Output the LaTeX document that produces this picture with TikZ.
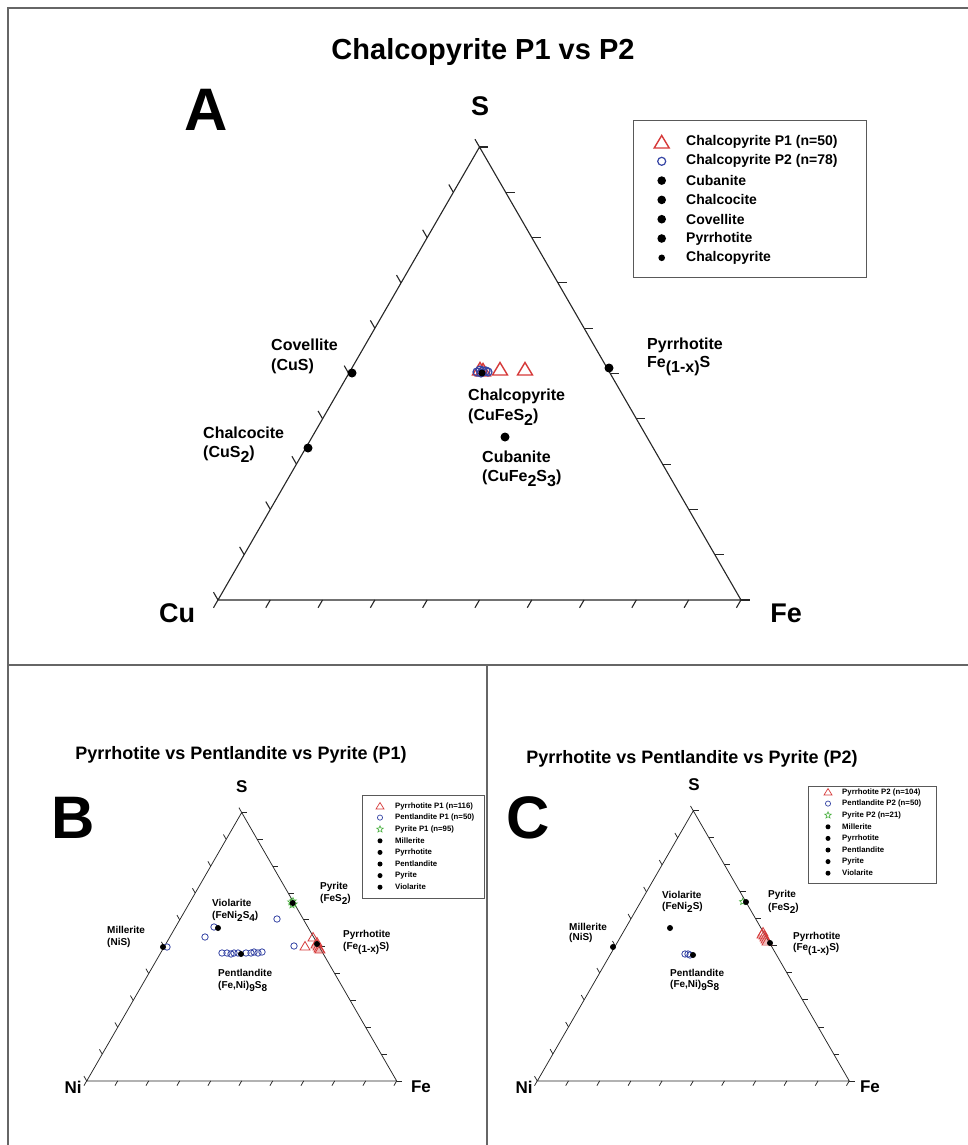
\documentclass[tikz,border=0pt]{standalone}
\usepackage{fontspec}
\setmainfont{Liberation Sans}
\usepackage{graphicx}
\usetikzlibrary{shapes.geometric}
\definecolor{tred}{RGB}{214,58,58}
\definecolor{tblue}{RGB}{55,70,165}
\definecolor{tgreen}{RGB}{70,175,60}
\newcommand\sbx[1]{\raisebox{-0.3em}{#1}}
\newcommand\tern[5]{%
  \draw[#5] (#1) -- (#2) -- (#3) -- cycle;
  \foreach \k in {0,...,10}{%
    \pgfmathtruncatemacro\kk{10-\k}%
    \draw[#5] (barycentric cs:#1=\kk,#2=\k) -- ++(-0.5*#4,0.866*#4);
    \draw[#5] (barycentric cs:#2=\kk,#3=\k) -- ++(#4,0);
    \draw[#5] (barycentric cs:#3=\kk,#1=\k) -- ++(-0.5*#4,-0.866*#4);
  }}
\begin{document}
\begin{tikzpicture}[x=1pt,y=-1pt,
  frame/.style={draw=black!60, line width=1.4pt},
  axA/.style={black!85, line width=1.1pt},
  axB/.style={black!85, line width=0.75pt},
  ttlA/.style={font=\fontsize{29}{32}\selectfont\bfseries, inner sep=0},
  ttlB/.style={font=\fontsize{18}{20}\selectfont\bfseries, inner sep=0},
  bigl/.style={font=\fontsize{60}{64}\selectfont\bfseries, inner sep=0},
  vtxA/.style={font=\fontsize{27}{30}\selectfont\bfseries, inner sep=0},
  vtxB/.style={font=\fontsize{17}{19}\selectfont\bfseries, inner sep=0},
  lblA/.style={font=\fontsize{16}{18}\selectfont\bfseries, inner sep=0, anchor=west},
  legA/.style={font=\fontsize{14}{16}\selectfont\bfseries, inner sep=0, anchor=west},
  lblB/.style={font=\fontsize{10}{12}\selectfont\bfseries, inner sep=0, anchor=west},
  legB/.style={font=\fontsize{7.8}{9}\selectfont\bfseries, inner sep=0, anchor=west},
  legbox/.style={draw=black!65, line width=1pt},
  bigtri/.pic={\draw[tred, line width=1.4pt] (0,-6.5) -- (7.5,6) -- (-7.5,6) -- cycle;},
  smtri/.pic={\draw[tred, line width=0.8pt] (0,-4.5) -- (5,4) -- (-5,4) -- cycle;},
  legtri/.pic={\draw[tred, line width=0.7pt] (0,-3.5) -- (4,3) -- (-4,3) -- cycle;},
  gstar/.style={star, star points=5, star point ratio=2.3, draw=tgreen, line width=0.6pt, inner sep=0, minimum size=7pt},
]
\useasboundingbox (0,0) rectangle (968,1145);
\fill[white] (0,0) rectangle (968,1145);

% frame
\draw[frame] (968,8) -- (8,8) -- (8,1145);
\draw[frame] (8,665) -- (968,665);
\draw[frame] (487,665) -- (487,1145);

% ================= Panel A =================
\coordinate (aL) at (218,600);
\coordinate (aR) at (741,600);
\coordinate (aT) at (479.5,147);
\tern{aL}{aR}{aT}{9}{axA}

\node[ttlA] (tA) at (483,52) {Chalcopyrite P1 vs P2};
\node[bigl] (letA) at (206,110) {A};
\node[vtxA] (sA) at (480,106) {S};
\node[vtxA] (cuA) at (177,613) {Cu};
\node[vtxA] (feA) at (786,613) {Fe};

% legend A
\draw[legbox] (633,121) rectangle (866,277);
\pic at (661.7,142) {bigtri};
\draw[tblue, line width=1.2pt] (661.7,161.3) circle[radius=4pt];
\fill (661.7,180.6) circle[radius=4.3pt];
\fill (661.7,199.9) circle[radius=4.3pt];
\fill (661.7,219.2) circle[radius=4.3pt];
\fill (661.7,238.5) circle[radius=4.3pt];
\fill (661.7,257.8) circle[radius=3.3pt];
\node[legA] (lA1) at (686,142) {Chalcopyrite P1 (n=50)};
\node[legA] (lA2) at (686,161.3) {Chalcopyrite P2 (n=78)};
\node[legA] (lA3) at (686,180.6) {Cubanite};
\node[legA] (lA4) at (686,199.9) {Chalcocite};
\node[legA] (lA5) at (686,219.2) {Covellite};
\node[legA] (lA6) at (686,238.5) {Pyrrhotite};
\node[legA] (lA7) at (686,257.8) {Chalcopyrite};

% labels A
\node[lblA] (covA) at (271,345) {Covellite};
\node[lblA] (covfA) at (271,366) {(CuS)};
\node[lblA] (chcA) at (203,433) {Chalcocite};
\node[lblA] (chcfA) at (203,454) {(CuS\sbx{2})};
\node[lblA] (cpyA) at (468,396) {Chalcopyrite};
\node[lblA] (cpyfA) at (468,417) {(CuFeS\sbx{2})};
\node[lblA] (cubA) at (482,457) {Cubanite};
\node[lblA] (cubfA) at (482,478) {(CuFe\sbx{2}S\sbx{3})};
\node[lblA] (poA) at (647,345) {Pyrrhotite};
\node[lblA] (pofA) at (647,366) {Fe\sbx{(1-x)}S};

% data A
\fill (352,373) circle[radius=4.5pt];
\fill (308,448) circle[radius=4.5pt];
\fill (609,368) circle[radius=4.5pt];
\fill (505,437) circle[radius=4.5pt];
\pic at (480,369) {bigtri};
\pic at (483,370) {bigtri};
\pic at (500,369) {bigtri};
\pic at (525,369) {bigtri};
\foreach \x/\y in {477/372,480/370,483/371,486/371,488/372,481/373}
  \draw[tblue, line width=1.2pt] (\x,\y) circle[radius=4pt];
\fill (482,373) circle[radius=3.5pt];

% ================= Panel B =================
\coordinate (bL) at (86.7,1081);
\coordinate (bR) at (396.7,1081);
\coordinate (bT) at (241.7,812.5);
\tern{bL}{bR}{bT}{5.5}{axB}

\node[ttlB] (tB) at (241,755) {Pyrrhotite vs Pentlandite vs Pyrite (P1)};
\node[bigl] (letB) at (73,818) {B};
\node[vtxB] (sB) at (241.7,787) {S};
\node[vtxB] (niB) at (73,1087) {Ni};
\node[vtxB] (feB) at (421,1087) {Fe};

% legend B
\draw[legbox, line width=0.8pt] (362.7,795) rectangle (484,898);
\pic at (380,806) {legtri};
\draw[tblue, line width=0.7pt] (380,817.6) circle[radius=2.6pt];
\node[gstar] (gsB) at (380,829.2) {};
\foreach \y in {840.8,852.4,864,875.6,887.2} \fill (380,\y) circle[radius=2.5pt];
\node[legB] (lB1) at (395,806) {Pyrrhotite P1 (n=116)};
\node[legB] (lB2) at (395,817.6) {Pentlandite P1 (n=50)};
\node[legB] (lB3) at (395,829.2) {Pyrite P1 (n=95)};
\node[legB] (lB4) at (395,840.8) {Millerite};
\node[legB] (lB5) at (395,852.4) {Pyrrhotite};
\node[legB] (lB6) at (395,864) {Pentlandite};
\node[legB] (lB7) at (395,875.6) {Pyrite};
\node[legB] (lB8) at (395,887.2) {Violarite};

% labels B
\node[lblB] (pyB) at (320,887) {Pyrite};
\node[lblB] (pyfB) at (320,899) {(FeS\sbx{2})};
\node[lblB] (viB) at (212,903) {Violarite};
\node[lblB] (vifB) at (212,916) {(FeNi\sbx{2}S\sbx{4})};
\node[lblB] (miB) at (107,930) {Millerite};
\node[lblB] (mifB) at (107,943) {(NiS)};
\node[lblB] (pnB) at (218,973) {Pentlandite};
\node[lblB] (pnfB) at (218,986) {(Fe,Ni)\sbx{9}S\sbx{8}};
\node[lblB] (poB) at (343,935) {Pyrrhotite};
\node[lblB] (pofB) at (343,948) {(Fe\sbx{(1-x)}S)};

% data B
\foreach \x/\y in {291/902,294/904,292/905,293/901}
  \node[gstar] at (\x,\y) {};
\fill (292.7,903) circle[radius=3pt];
\foreach \x/\y in {167/947,214/927,277/919,205/937,294/946,222/953,227/953,231/954,234/953,238/953,246/953,251/953,254/952,258/953,262/952}
  \draw[tblue, line width=0.8pt] (\x,\y) circle[radius=3.2pt];
\fill (163,947) circle[radius=3pt];
\fill (218,928) circle[radius=3pt];
\fill (241,954) circle[radius=3pt];
\pic at (313,937) {smtri};
\pic at (305,946) {smtri};
\foreach \x/\y in {316/944,318/946,319/948,317/942,320/949}
  \pic at (\x,\y) {smtri};
\fill (317,944) circle[radius=3pt];

% ================= Panel C =================
\coordinate (cL) at (537.3,1081);
\coordinate (cR) at (849.3,1081);
\coordinate (cT) at (693.3,810.8);
\tern{cL}{cR}{cT}{5.5}{axB}

\node[ttlB] (tC) at (692,759) {Pyrrhotite vs Pentlandite vs Pyrite (P2)};
\node[bigl] (letC) at (528,818) {C};
\node[vtxB] (sC) at (694,785) {S};
\node[vtxB] (niC) at (524,1087) {Ni};
\node[vtxB] (feC) at (870,1087) {Fe};

% legend C
\draw[legbox, line width=0.8pt] (808,786) rectangle (936,883);
\pic at (828,792) {legtri};
\draw[tblue, line width=0.7pt] (828,803.6) circle[radius=2.6pt];
\node[gstar] (gsC) at (828,815.2) {};
\foreach \y in {826.8,838.4,850,861.6,873.2} \fill (828,\y) circle[radius=2.5pt];
\node[legB] (lC1) at (842,792) {Pyrrhotite P2 (n=104)};
\node[legB] (lC2) at (842,803.6) {Pentlandite P2 (n=50)};
\node[legB] (lC3) at (842,815.2) {Pyrite P2 (n=21)};
\node[legB] (lC4) at (842,826.8) {Millerite};
\node[legB] (lC5) at (842,838.4) {Pyrrhotite};
\node[legB] (lC6) at (842,850) {Pentlandite};
\node[legB] (lC7) at (842,861.6) {Pyrite};
\node[legB] (lC8) at (842,873.2) {Violarite};

% labels C
\node[lblB] (pyC) at (768,895) {Pyrite};
\node[lblB] (pyfC) at (768,908) {(FeS\sbx{2})};
\node[lblB] (viC) at (662,895) {Violarite};
\node[lblB] (vifC) at (662,907) {(FeNi\sbx{2}S)};
\node[lblB] (miC) at (569,927) {Millerite};
\node[lblB] (mifC) at (569,938) {(NiS)};
\node[lblB] (pnC) at (670,973) {Pentlandite};
\node[lblB] (pnfC) at (670,985) {(Fe,Ni)\sbx{9}S\sbx{8}};
\node[lblB] (poC) at (793,937) {Pyrrhotite};
\node[lblB] (pofC) at (793,949) {(Fe\sbx{(1-x)}S)};

% data C
\node[gstar] at (742.7,901.7) {};
\fill (746,902) circle[radius=3pt];
\fill (670,928) circle[radius=3pt];
\fill (613,947) circle[radius=3pt];
\foreach \x/\y in {685/954,688/954,690/955}
  \draw[tblue, line width=0.8pt] (\x,\y) circle[radius=3.2pt];
\fill (693,955) circle[radius=3pt];
\foreach \x/\y in {763/932,764/935,765/937,766/939,767/941,762/934}
  \pic at (\x,\y) {smtri};
\fill (770,943) circle[radius=3pt];
\end{tikzpicture}
\end{document}
